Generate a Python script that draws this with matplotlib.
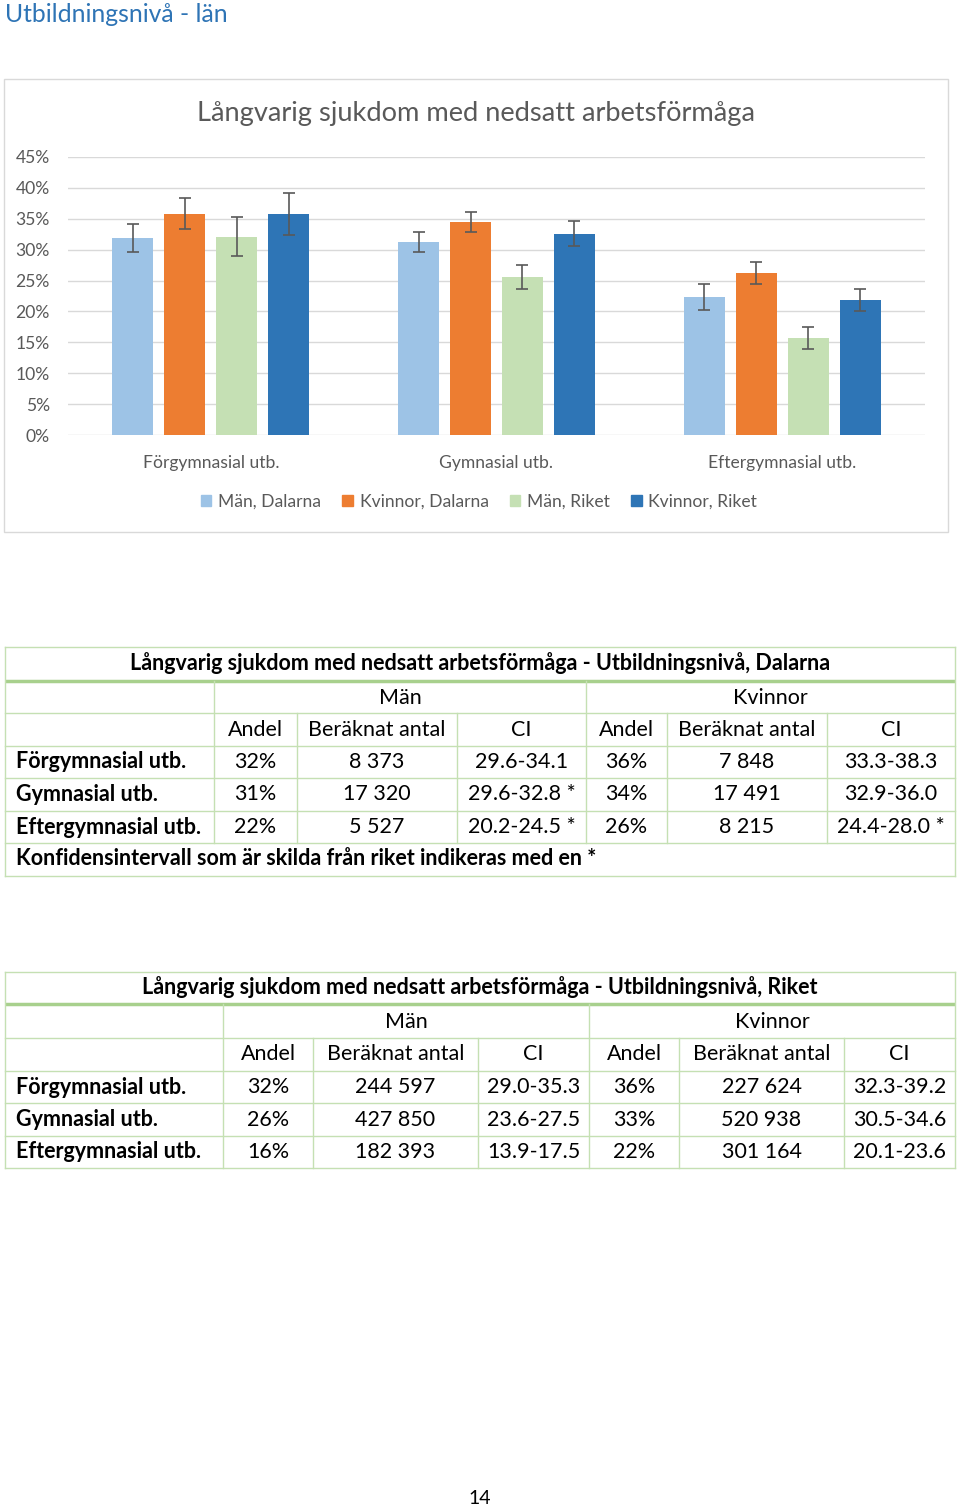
import numpy as np
import matplotlib.pyplot as plt
from matplotlib.patches import Rectangle

plt.rcParams['font.family'] = ['Lato', 'DejaVu Sans']

# ---- chart data ----
categories = ['Förgymnasial utb.', 'Gymnasial utb.', 'Eftergymnasial utb.']
series = ['Män, Dalarna', 'Kvinnor, Dalarna', 'Män, Riket', 'Kvinnor, Riket']
man_dal = [31.8, 31.2, 22.3]
kv_dal = [35.8, 34.4, 26.2]
man_riket = [32.1, 25.5, 15.7]
kv_riket = [35.8, 32.5, 21.8]
man_dal_ci = [(29.6, 34.1), (29.6, 32.8), (20.2, 24.5)]
kv_dal_ci = [(33.3, 38.3), (32.9, 36.0), (24.4, 28.0)]
man_riket_ci = [(29.0, 35.3), (23.6, 27.5), (13.9, 17.5)]
kv_riket_ci = [(32.3, 39.2), (30.5, 34.6), (20.1, 23.6)]
colors = ['#9DC3E6', '#ED7D31', '#C5E0B4', '#2E75B6']

# ---- table data ----
rows = ['Förgymnasial utb.', 'Gymnasial utb.', 'Eftergymnasial utb.']
sub_headers = ['Andel', 'Beräknat antal', 'CI', 'Andel', 'Beräknat antal', 'CI']

dal_man_andel = ['32%', '31%', '22%']
dal_man_antal = ['8 373', '17 320', '5 527']
dal_man_ci = ['29.6-34.1', '29.6-32.8 *', '20.2-24.5 *']
dal_kv_andel = ['36%', '34%', '26%']
dal_kv_antal = ['7 848', '17 491', '8 215']
dal_kv_ci = ['33.3-38.3', '32.9-36.0', '24.4-28.0 *']

riket_man_andel = ['32%', '26%', '16%']
riket_man_antal = ['244 597', '427 850', '182 393']
riket_man_ci = ['29.0-35.3', '23.6-27.5', '13.9-17.5']
riket_kv_andel = ['36%', '33%', '22%']
riket_kv_antal = ['227 624', '520 938', '301 164']
riket_kv_ci = ['32.3-39.2', '30.5-34.6', '20.1-23.6']

W, H = 960, 1507
fig = plt.figure(figsize=(W / 100, H / 100), dpi=100)

# page overlay axes in pixel coords
page = fig.add_axes([0, 0, 1, 1])
page.set_xlim(0, W)
page.set_ylim(H, 0)
page.axis('off')

GRAY = '#595959'

page.text(5, 15, 'Utbildningsnivå - län', fontsize=17.8, color='#2E74B5', va='center', ha='left')

# chart frame
page.add_patch(Rectangle((4, 79), 944, 453, fill=False, edgecolor='#D9D9D9', lw=1))
page.text(476, 114, 'Långvarig sjukdom med nedsatt arbetsförmåga', fontsize=19.6,
          color=GRAY, ha='center', va='center')

# ---- bar chart ----
ax = fig.add_axes([68 / W, 1 - 435.3 / H, 857 / W, 278.6 / H])
x = np.arange(len(categories))
width = 0.1435
step = 0.182
all_vals = [man_dal, kv_dal, man_riket, kv_riket]
all_ci = [man_dal_ci, kv_dal_ci, man_riket_ci, kv_riket_ci]
for i, (vals, ci) in enumerate(zip(all_vals, all_ci)):
    v = np.array(vals) / 100
    lo = v - np.array([c[0] for c in ci]) / 100
    hi = np.array([c[1] for c in ci]) / 100 - v
    ax.bar(x + (i - 1.5) * step, v, width, color=colors[i], label=series[i], zorder=2)
    ax.errorbar(x + (i - 1.5) * step, v, yerr=[lo, hi], fmt='none', ecolor=GRAY,
                elinewidth=1.2, capsize=4.5, capthick=1.2, zorder=3)

ax.set_xlim(-0.5, 2.5)
ax.set_ylim(0, 0.45)
ticks = np.arange(0, 0.46, 0.05)
ax.set_yticks(ticks)
ax.set_yticklabels([f'{int(round(t * 100))}%' for t in ticks])
ax.set_xticks(x)
ax.set_xticklabels(categories)
ax.tick_params(length=0, labelcolor=GRAY, labelsize=12.6)
ax.tick_params(axis='y', pad=13)
ax.tick_params(axis='x', pad=14)
for s in ax.spines.values():
    s.set_visible(False)
ax.grid(axis='y', color='#D9D9D9', lw=1, zorder=0)
ax.set_axisbelow(True)

handles = [Rectangle((0, 0), 1, 1, color=c) for c in colors]
fig.legend(handles, series, loc='center', bbox_to_anchor=(479 / W, 1 - 502 / H), ncol=4,
           frameon=False, fontsize=12.6, handlelength=0.6, handleheight=0.6,
           handletextpad=0.4, columnspacing=1.2, labelcolor=GRAY)


# ---- tables ----
BORDER = '#C5E0B3'
GREEN = '#A8D08D'


def draw_table(title, cols, ys, data, footnote=None):
    left, right = cols[0], cols[-1]
    top, bottom = ys[0], ys[-1]
    for k, yy in enumerate(ys):
        if k == 1:
            page.plot([left, right], [yy, yy], color=GREEN, lw=2.5, solid_capstyle='butt')
        else:
            page.plot([left, right], [yy, yy], color=BORDER, lw=1)
    page.plot([left, left], [top, bottom], color=BORDER, lw=1)
    page.plot([right, right], [top, bottom], color=BORDER, lw=1)
    body_end = ys[6]
    page.plot([cols[1], cols[1]], [ys[1], body_end], color=BORDER, lw=1)
    page.plot([cols[4], cols[4]], [ys[1], body_end], color=BORDER, lw=1)
    for c in [cols[2], cols[3], cols[5], cols[6]]:
        page.plot([c, c], [ys[2], body_end], color=BORDER, lw=1)

    fs = 15.5
    mid = lambda a, b: (a + b) / 2
    page.text(mid(left, right), mid(ys[0], ys[1]) - 1, title, fontsize=fs, weight='bold',
              color='black', ha='center', va='center')
    page.text(mid(cols[1], cols[4]), mid(ys[1], ys[2]) + 1, 'Män', fontsize=fs, color='black',
              ha='center', va='center')
    page.text(mid(cols[4], cols[7]), mid(ys[1], ys[2]) + 1, 'Kvinnor', fontsize=fs, color='black',
              ha='center', va='center')
    for j, h in enumerate(sub_headers):
        page.text(mid(cols[j + 1], cols[j + 2]), mid(ys[2], ys[3]), h, fontsize=fs,
                  color='black', ha='center', va='center')
    for r, name in enumerate(rows):
        yc = mid(ys[3 + r], ys[4 + r])
        page.text(left + 11, yc, name, fontsize=fs, weight='bold', color='black',
                  ha='left', va='center')
        for j, col in enumerate(data):
            page.text(mid(cols[j + 1], cols[j + 2]), yc, col[r], fontsize=fs,
                      color='black', ha='center', va='center')
    if footnote:
        page.text(left + 11, mid(ys[6], ys[7]) - 1, footnote, fontsize=fs, weight='bold',
                  color='black', ha='left', va='center')


draw_table('Långvarig sjukdom med nedsatt arbetsförmåga - Utbildningsnivå, Dalarna',
           [5, 214, 297, 457, 586, 667, 827, 955],
           [647, 681, 713, 746, 778, 811, 843, 876],
           [dal_man_andel, dal_man_antal, dal_man_ci, dal_kv_andel, dal_kv_antal, dal_kv_ci],
           footnote='Konfidensintervall som är skilda från riket indikeras med en *')

draw_table('Långvarig sjukdom med nedsatt arbetsförmåga - Utbildningsnivå, Riket',
           [5, 223, 313, 478, 589, 679, 844, 955],
           [972, 1004, 1038, 1071, 1103, 1136, 1168],
           [riket_man_andel, riket_man_antal, riket_man_ci, riket_kv_andel, riket_kv_antal, riket_kv_ci])

page.text(480, 1498, '14', fontsize=14, color='black', ha='center', va='center')

fig.savefig('out.png', dpi=100)
